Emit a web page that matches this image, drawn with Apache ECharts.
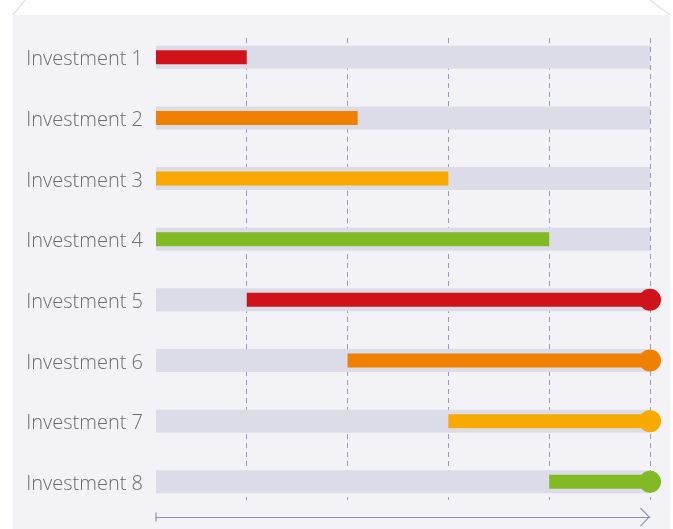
<!DOCTYPE html>
<html><head><meta charset="utf-8">
<script src="https://cdn.jsdelivr.net/npm/echarts@6/dist/echarts.min.js"></script>
<style>html,body{margin:0;padding:0;background:#fff}#c{width:673px;height:529px}</style>
</head><body><div id="c"></div>
<script>
const categories = ['Investment 1','Investment 2','Investment 3','Investment 4','Investment 5','Investment 6','Investment 7','Investment 8'];
const startValues = [0.1, 0.1, 0.1, 0.1, 1, 2, 3, 4];
const endValues = [1, 2.1, 3, 4, 5, 5, 5, 5];
const endDots = [false, false, false, false, true, true, true, true];
const barColors = ['#d0121a','#f08000','#f9aa00','#82ba25','#d0121a','#f08000','#f9aa00','#82ba25'];
const trackStart = 0.1;
const trackEnd = 5;
const axisMin = 0;
const axisMax = 5;
const tickStep = 1;

const chart = echarts.init(document.getElementById('c'), null, {renderer: 'canvas'});

const startTick = 'path://M0,0L0.01,0L0,0.01Z M5,4.4L14,4.4L14,5.6L5,5.6Z M19,10L18.99,10L19,9.99Z';
const chevron = 'path://M0,9.2L9.5,0L19,9.2L18.2,10L9.5,1.6L0.8,10Z';

const option = {
  backgroundColor: '#ffffff',
  animation: false,
  graphic: [
    {type: 'rect', z: -10, silent: true, shape: {x: 13, y: 15, width: 657, height: 520}, style: {fill: '#f2f2f7'}},
    {type: 'polyline', z: -9, silent: true, shape: {points: [[25, 0], [13, 15]]}, style: {stroke: '#e2e2ea', lineWidth: 1.5}},
    {type: 'polyline', z: -9, silent: true, shape: {points: [[650, 0], [670, 15]]}, style: {stroke: '#e2e2ea', lineWidth: 1.5}}
  ],
  grid: [
    {left: 156, right: 23, top: 26.9, bottom: 16.9, containLabel: false},
    {left: 145.92, right: 23, top: 38, bottom: 29, containLabel: false}
  ],
  xAxis: [
    {
      type: 'value', gridIndex: 0, min: trackStart, max: axisMax,
      axisLabel: {show: false}, axisTick: {show: false}, splitLine: {show: false},
      axisLine: {show: true, onZero: false, lineStyle: {color: '#8f92b8', width: 1},
        symbol: [startTick, chevron], symbolSize: [19, 10], symbolOffset: [0, -5]},
      offset: 5
    },
    {
      type: 'value', gridIndex: 1, min: axisMin, max: axisMax, interval: tickStep,
      axisLabel: {show: false}, axisTick: {show: false}, axisLine: {show: false},
      splitLine: {show: true, showMinLine: false, showMaxLine: true, lineStyle: {color: '#9799bd', width: 1, type: [5, 4]}}
    }
  ],
  yAxis: [
    {
      type: 'category', gridIndex: 0, inverse: true, data: categories,
      axisLine: {show: false}, axisTick: {show: false}, splitLine: {show: false},
      axisLabel: {fontSize: 20, color: '#6c6c6c', fontFamily: 'Open Sans', fontWeight: 300, margin: 13, verticalAlign: 'top', lineHeight: 5}
    },
    {type: 'value', gridIndex: 1, show: false, min: 0, max: 1}
  ],
  series: [
    {
      type: 'custom', xAxisIndex: 0, yAxisIndex: 0, z: 1, silent: true,
      encode: {x: [1, 2], y: 0},
      data: categories.map((c, i) => [i, trackStart, trackEnd]),
      renderItem: function (params, api) {
        const a = api.coord([api.value(1), api.value(0)]);
        const b = api.coord([api.value(2), api.value(0)]);
        const h = 23;
        return {type: 'rect', shape: {x: a[0], y: a[1] - h / 2, width: b[0] - a[0], height: h}, style: {fill: '#dcdce8'}};
      }
    },
    {
      type: 'custom', xAxisIndex: 0, yAxisIndex: 0, z: 3, silent: true,
      encode: {x: [1, 2], y: 0},
      data: categories.map((c, i) => ({value: [i, startValues[i], endValues[i], endDots[i] ? 1 : 0], itemStyle: {color: barColors[i]}})),
      renderItem: function (params, api) {
        const a = api.coord([api.value(1), api.value(0)]);
        const b = api.coord([api.value(2), api.value(0)]);
        const h = 14;
        const color = api.visual('color');
        const children = [{type: 'rect', shape: {x: a[0], y: a[1] - h / 2, width: b[0] - a[0], height: h}, style: {fill: color}}];
        if (api.value(3)) {
          children.push({type: 'circle', shape: {cx: b[0], cy: b[1], r: 11}, style: {fill: color}});
        }
        return {type: 'group', children: children};
      }
    }
  ]
};
chart.setOption(option);
</script>
</body></html>
